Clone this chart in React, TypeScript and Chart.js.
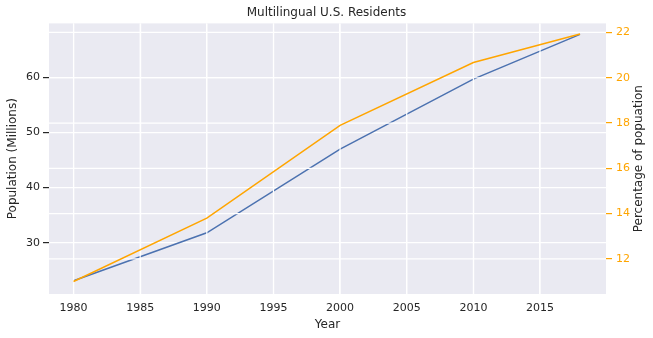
import React, { useEffect, useRef } from "react";
import { Chart, registerables } from "chart.js";

Chart.register(...registerables);

const years = [1980, 1990, 2000, 2010, 2018];
const populationMillions = [23.1, 31.8, 47.0, 59.7, 67.8];
const percentOfPopulation = [11.0, 13.8, 17.9, 20.67, 21.93];
const xTicks = [1980, 1985, 1990, 1995, 2000, 2005, 2010, 2015];
const leftTicks = [30, 40, 50, 60];
const rightTicks = [12, 14, 16, 18, 20, 22];
const rightTitle = "Percentage of popuation";

const FONT = "'DejaVu Sans', sans-serif";
const TEXT = "#262626";
const ORANGE = "#ffa500";
const BLUE = "#4c72b0";

const bgPlugin = {
  id: "plotBg",
  beforeDraw(chart: any) {
    const { ctx, chartArea } = chart;
    ctx.save();
    ctx.fillStyle = "#ffffff";
    ctx.fillRect(0, 0, chart.width, chart.height);
    ctx.fillStyle = "#eaeaf2";
    ctx.fillRect(chartArea.left, chartArea.top, chartArea.right - chartArea.left, chartArea.bottom - chartArea.top);
    ctx.restore();
  },
  afterDatasetDraw(chart: any, args: any) {
    // twin axis grid is drawn over the first (blue) line, like the twin axes in the reference
    if (args.index !== 1) return;
    const { ctx, chartArea, scales } = chart;
    ctx.save();
    ctx.strokeStyle = "#ffffff";
    ctx.lineWidth = 1.2;
    ctx.beginPath();
    for (const v of xTicks) {
      const x = scales.x.getPixelForValue(v);
      ctx.moveTo(x, chartArea.top);
      ctx.lineTo(x, chartArea.bottom);
    }
    for (const v of rightTicks) {
      const y = scales.y2.getPixelForValue(v);
      ctx.moveTo(chartArea.left, y);
      ctx.lineTo(chartArea.right, y);
    }
    ctx.stroke();
    ctx.restore();
  },
  afterDraw(chart: any) {
    const { ctx, chartArea, scales } = chart;
    ctx.save();
    ctx.fillStyle = TEXT;
    ctx.font = "12px " + FONT;
    ctx.textAlign = "center";
    ctx.textBaseline = "middle";
    ctx.translate(scales.y2.right - 14, (chartArea.top + chartArea.bottom) / 2);
    ctx.rotate(-Math.PI / 2);
    ctx.fillText(rightTitle, 0, 0);
    ctx.restore();
  },
};

export default function App() {
  const ref = useRef<HTMLCanvasElement | null>(null);
  useEffect(() => {
    document.body.style.margin = "0";
    const canvas = ref.current!;
    const chart = new Chart(canvas, {
      type: "line",
      data: {
        datasets: [
          {
            label: rightTitle,
            data: years.map((y, i) => ({ x: y, y: percentOfPopulation[i] })),
            borderColor: ORANGE,
            backgroundColor: ORANGE,
            borderWidth: 1.5,
            pointRadius: 0,
            tension: 0,
            yAxisID: "y2",
          },
          {
            label: "Population (Millions)",
            data: years.map((y, i) => ({ x: y, y: populationMillions[i] })),
            borderColor: BLUE,
            backgroundColor: BLUE,
            borderWidth: 1.5,
            pointRadius: 0,
            tension: 0,
            yAxisID: "y",
          },
        ],
      },
      options: {
        responsive: false,
        animation: false,
        layout: { padding: 0 },
        plugins: {
          legend: { display: false },
          tooltip: { enabled: false },
          title: {
            display: true,
            text: "Multilingual U.S. Residents",
            color: TEXT,
            font: { family: FONT, size: 12, weight: "normal" },
            padding: { top: 6, bottom: 3 },
          },
        },
        scales: {
          x: {
            type: "linear",
            min: 1978.16,
            max: 2019.95,
            afterBuildTicks: (s: any) => {
              s.ticks = xTicks.map((v) => ({ value: v }));
            },
            afterFit: (s: any) => {
              s.height = 44;
            },
            border: { display: false },
            grid: { color: "#ffffff", lineWidth: 1.2, tickLength: 4, tickColor: "rgba(0,0,0,0)" },
            ticks: {
              color: TEXT,
              font: { family: FONT, size: 11 },
              padding: 4,
              maxRotation: 0,
              callback: (v: any) => String(v),
            },
            title: {
              display: true,
              text: "Year",
              color: TEXT,
              font: { family: FONT, size: 12 },
              padding: { top: 0, bottom: 6 },
            },
          },
          y: {
            type: "linear",
            position: "left",
            min: 20.7,
            max: 69.8,
            afterBuildTicks: (s: any) => {
              s.ticks = leftTicks.map((v) => ({ value: v }));
            },
            afterFit: (s: any) => {
              s.width = 49;
            },
            border: { display: false },
            grid: { color: "#ffffff", lineWidth: 1.2, tickLength: 6, tickColor: TEXT },
            ticks: { color: TEXT, font: { family: FONT, size: 11 }, padding: 3 },
            title: {
              display: true,
              text: "Population (Millions)",
              color: TEXT,
              font: { family: FONT, size: 12 },
              padding: { top: 6, bottom: 0 },
            },
          },
          y2: {
            type: "linear",
            position: "right",
            min: 10.45,
            max: 22.4,
            afterBuildTicks: (s: any) => {
              s.ticks = rightTicks.map((v) => ({ value: v }));
            },
            afterFit: (s: any) => {
              s.width = 47;
            },
            border: { display: false },
            grid: { drawOnChartArea: false, tickLength: 6, tickColor: ORANGE, lineWidth: 1.2 },
            ticks: { color: ORANGE, font: { family: FONT, size: 11 }, padding: 4 },
            title: { display: false },
          },
        },
      },
      plugins: [bgPlugin],
    } as any);
    return () => chart.destroy();
  }, []);
  return <canvas ref={ref} width={653} height={338} style={{ display: "block" }} />;
}
